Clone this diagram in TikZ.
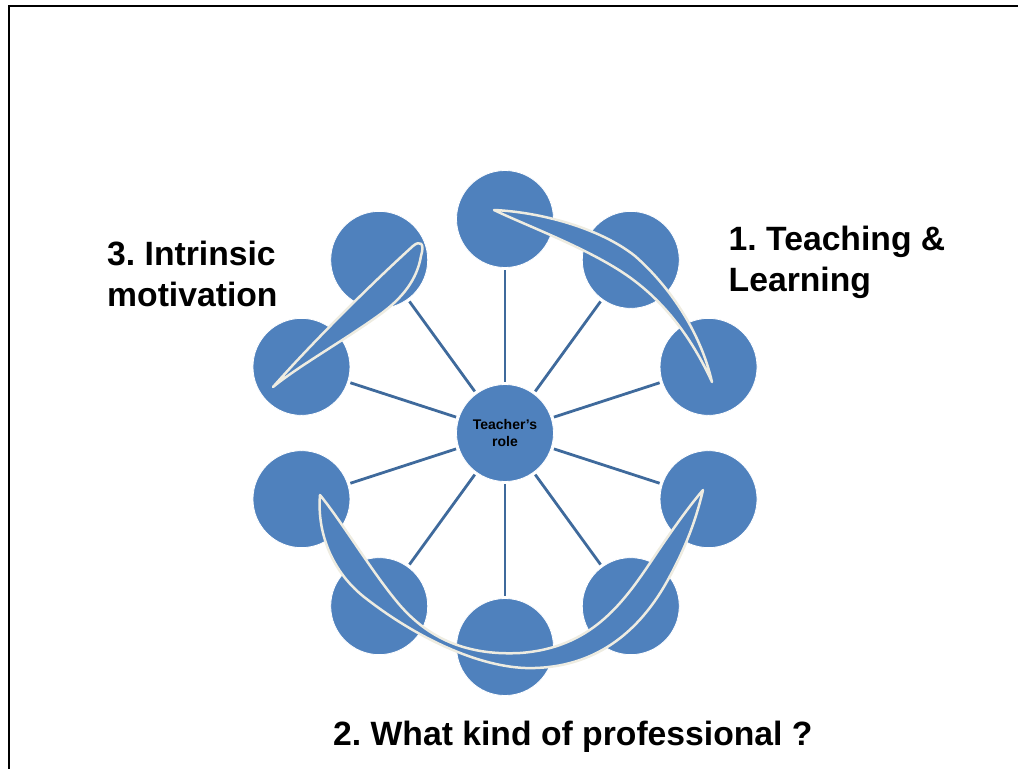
\documentclass[tikz,border=0pt]{standalone}
\usepackage{fontspec}
\setmainfont{Liberation Sans}
\frenchspacing
\definecolor{cblue}{HTML}{4F81BD}
\definecolor{sblue}{HTML}{3F6A9C}
\definecolor{cream}{HTML}{EEECE1}
\tikzset{
  circ/.style={circle, fill=cblue, draw=white, line width=0.8pt, minimum size=97pt, inner sep=0pt},
  spoke/.style={draw=sblue, line width=2.8pt, shorten <=2.5pt, shorten >=2.5pt},
  crescent/.style={fill=cblue, draw=cream, line width=2.5pt, line join=round},
  txt/.style={font=\fontsize{33.7}{40}\selectfont\bfseries, anchor=base west, inner sep=0pt},
  frame/.style={draw=black, line width=2pt}
}
\begin{document}
\begin{tikzpicture}[x=1pt,y=-1pt]
\useasboundingbox (0,0) rectangle (1018,769);
% frame
\coordinate (ftr) at (1018,6);
\coordinate (ftl) at (9,6);
\coordinate (fbl) at (9,769);
\draw[frame] (ftr) -- (ftl) -- (fbl);
% nodes
\node[circ, font=\fontsize{14}{17}\selectfont\bfseries, align=center] (c) at (505,433) {Teacher’s\\role};
\foreach \i in {0,...,9} {
  \pgfmathsetmacro{\a}{90-36*\i}
  \node[circ] (o\i) at ({505+214*cos(\a)},{433-214*sin(\a)}) {};
}
\foreach \i in {0,...,9} {
  \draw[spoke] (c) -- (o\i);
}
% crescent 1 (top right)
\path[crescent] (494,210) .. controls (540,212) and (600,228) .. (635,256)
  .. controls (668,285) and (700,330) .. (712,382)
  .. controls (695,345) and (668,302) .. (622,272)
  .. controls (582,246) and (525,225) .. cycle;
% crescent 2 (left)
\path[crescent] (273,387) .. controls (310,345) and (370,285) .. (413,246)
  .. controls (420,240) and (425,243) .. (421,256)
  .. controls (417,280) and (402,298) .. (382,313)
  .. controls (345,340) and (300,365) .. cycle;
% crescent 3 (bottom)
\path[crescent] (320,495) .. controls (317,530) and (330,572) .. (368,600)
  .. controls (420,640) and (485,670) .. (535,668)
  .. controls (600,666) and (640,628) .. (665,585)
  .. controls (685,550) and (696,520) .. (703,490)
  .. controls (690,505) and (672,530) .. (652,560)
  .. controls (622,605) and (590,648) .. (520,653)
  .. controls (462,656) and (425,635) .. (398,603)
  .. controls (372,572) and (342,522) .. cycle;
% labels
\node[txt] (t1a) at (728.5,250) {1. Teaching \&};
\node[txt] (t1b) at (728.5,291) {Learning};
\node[txt] (t3a) at (107,265) {3. Intrinsic};
\node[txt] (t3b) at (107,306) {motivation};
\node[txt] (t2) at (333,745) {2. What kind of professional ?};
\end{tikzpicture}
\end{document}
